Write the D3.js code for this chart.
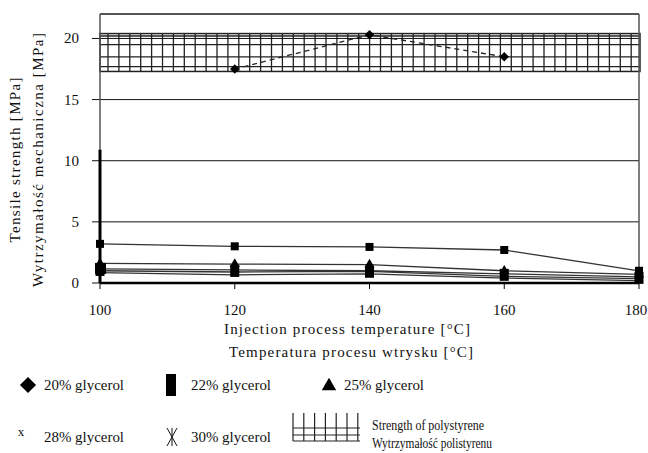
<!DOCTYPE html>
<html>
<head>
<meta charset="utf-8">
<style>
body { margin: 0; background: #fff; }
svg { display: block; }
text { font-family: "Liberation Serif", "Times New Roman", serif; fill: #111; }
.tick-label { font-size: 15px; }
.title { font-size: 15px; }
.legend { font-size: 15px; }
</style>
</head>
<body>
<svg id="chart" width="648" height="453"></svg>
<script src="https://cdn.jsdelivr.net/npm/d3@7"></script>
<script>
// data
var temps = [100, 120, 140, 160, 180];
var yTicks = [0, 5, 10, 15, 20];

// 20% glycerol, dashed line inside the polystyrene band
var g20Temps = [120, 140, 160];
var g20 = [17.5, 20.3, 18.5];
// line with small squares (around 3 MPa)
var gSquares = [3.2, 3.0, 2.95, 2.7, 1.0];
var g22 = [1.15, 1.07, 1.0, 0.75, 0.5];
var g25 = [1.6, 1.55, 1.5, 1.0, 0.7];
var g28 = [1.0, 0.9, 0.95, 0.55, 0.35];
var g30 = [0.85, 0.67, 0.75, 0.4, 0.2];
// thick bar at 100 degC
var barAt100 = 10.9;
// strength of polystyrene band
var bandLow = 17.3, bandHigh = 20.4;
var bandLines = [20.2, 19.5, 18.5, 17.7];

var svg = d3.select("#chart");

var x = d3.scaleLinear().domain([100, 180]).range([100, 639]);
var y = d3.scaleLinear().domain([0, 22]).range([283, 14]);

//	band with hatch
var band = svg.append("g");
band.append("rect")
  .attr("x", x(100)).attr("y", y(bandHigh))
  .attr("width", 540).attr("height", y(bandLow) - y(bandHigh))
  .attr("fill", "#fff").attr("stroke", "#222").attr("stroke-width", 1.5);
band.selectAll(".hl").data(bandLines).enter().append("line")
  .attr("x1", x(100)).attr("x2", 640)
  .attr("y1", function(d) { return y(d); }).attr("y2", function(d) { return y(d); })
  .attr("stroke", "#222").attr("stroke-width", 1.3);
band.selectAll(".vl").data(d3.range(108, 640, 10.9)).enter().append("line")
  .attr("x1", function(d) { return d; }).attr("x2", function(d) { return d; })
  .attr("y1", y(bandHigh)).attr("y2", y(bandLow))
  .attr("stroke", "#222").attr("stroke-width", 1.3);

//	grid lines and y ticks
svg.selectAll(".grid").data(yTicks.filter(function(d) { return d > 0; })).enter().append("line")
  .attr("x1", 92).attr("x2", x(180))
  .attr("y1", function(d) { return y(d); }).attr("y2", function(d) { return y(d); })
  .attr("stroke", "#111").attr("stroke-width", 1);
svg.append("line").attr("x1", 92).attr("x2", 100).attr("y1", y(0)).attr("y2", y(0))
  .attr("stroke", "#111");
svg.selectAll(".ylab").data(yTicks).enter().append("text")
  .attr("class", "tick-label")
  .attr("x", 79).attr("y", function(d) { return y(d) + 5; })
  .attr("text-anchor", "end")
  .text(function(d) { return d; });

//	frame
svg.append("line").attr("x1", x(100)).attr("x2", x(180)).attr("y1", 14).attr("y2", 14)
  .attr("stroke", "#555").attr("stroke-width", 2);
svg.append("line").attr("x1", x(180)).attr("x2", x(180)).attr("y1", 14).attr("y2", y(0))
  .attr("stroke", "#555").attr("stroke-width", 1.5);
svg.append("line").attr("x1", x(100)).attr("x2", x(100)).attr("y1", 14).attr("y2", y(0))
  .attr("stroke", "#555").attr("stroke-width", 1.5);

//	x axis
svg.append("line").attr("x1", x(100)).attr("x2", x(180)).attr("y1", y(0)).attr("y2", y(0))
  .attr("stroke", "#000").attr("stroke-width", 2.5);
svg.selectAll(".xt").data(temps).enter().append("line")
  .attr("x1", function(d) { return x(d); }).attr("x2", function(d) { return x(d); })
  .attr("y1", y(0)).attr("y2", y(0) + 6)
  .attr("stroke", "#000");
svg.selectAll(".xlab").data(temps).enter().append("text")
  .attr("class", "tick-label")
  .attr("x", function(d) { return Math.min(x(d), 636); }).attr("y", 315)
  .attr("text-anchor", "middle")
  .text(function(d) { return d; });

//	thick bar at 100
svg.append("line").attr("x1", x(100)).attr("x2", x(100))
  .attr("y1", y(0)).attr("y2", y(barAt100))
  .attr("stroke", "#000").attr("stroke-width", 3);

//	series lines
var line = d3.line()
  .x(function(d, i) { return x(temps[i]); })
  .y(function(d) { return y(d); });

[gSquares, g25, g22, g28, g30].forEach(function(s) {
  svg.append("path").attr("d", line(s))
    .attr("fill", "none").attr("stroke", "#333").attr("stroke-width", 1.3);
});

svg.append("path")
  .attr("d", d3.line()
    .x(function(d, i) { return x(g20Temps[i]); })
    .y(function(d) { return y(d); })(g20))
  .attr("fill", "none").attr("stroke", "#222").attr("stroke-width", 1.3)
  .attr("stroke-dasharray", "5,4");

//	markers
var diamond = d3.symbol().type(d3.symbolDiamond).size(40);
svg.selectAll(".m20").data(g20).enter().append("path")
  .attr("d", diamond)
  .attr("transform", function(d, i) { return "translate(" + x(g20Temps[i]) + "," + y(d) + ") scale(1.4,0.8)"; })
  .attr("fill", "#000");

svg.selectAll(".msq").data(gSquares).enter().append("rect")
  .attr("x", function(d, i) { return x(temps[i]) - 4; })
  .attr("y", function(d) { return y(d) - 4; })
  .attr("width", 8).attr("height", 8).attr("fill", "#000");

svg.selectAll(".m22").data(g22).enter().append("rect")
  .attr("x", function(d, i) { return x(temps[i]) - 4.5; })
  .attr("y", function(d) { return y(d) - 5; })
  .attr("width", 9).attr("height", 12).attr("fill", "#000");

var tri = d3.symbol().type(d3.symbolTriangle).size(45);
svg.selectAll(".m25").data(g25).enter().append("path")
  .attr("d", tri)
  .attr("transform", function(d, i) { return "translate(" + x(temps[i]) + "," + y(d) + ")"; })
  .attr("fill", "#000");

// big marker at 100
svg.append("rect").attr("x", x(100) - 5).attr("y", y(g22[0]) - 6)
  .attr("width", 11).attr("height", 11).attr("fill", "#000");

//	axis titles
svg.append("text").attr("class", "title")
  .attr("transform", "translate(20,160) rotate(-90)")
  .attr("text-anchor", "middle")
  .attr("textLength", 165).attr("lengthAdjust", "spacing")
  .text("Tensile strength [MPa]");
svg.append("text").attr("class", "title")
  .attr("transform", "translate(43,160) rotate(-90)")
  .attr("text-anchor", "middle")
  .attr("textLength", 254).attr("lengthAdjust", "spacing")
  .text("Wytrzymałość mechaniczna [MPa]");
svg.append("text").attr("class", "title")
  .attr("x", 224).attr("y", 334)
  .attr("textLength", 246).attr("lengthAdjust", "spacing")
  .text("Injection process temperature [°C]");
svg.append("text").attr("class", "title")
  .attr("x", 229).attr("y", 357)
  .attr("textLength", 244).attr("lengthAdjust", "spacing")
  .text("Temperatura procesu wtrysku [°C]");

//	legend
var lg = svg.append("g");
var row1 = 385, row2 = 437;
lg.append("path").attr("d", d3.symbol().type(d3.symbolSquare).size(130))
  .attr("transform", "translate(28," + row1 + ") rotate(45)").attr("fill", "#000");
lg.append("text").attr("class", "legend").attr("x", 44).attr("y", row1 + 5)
  .attr("textLength", 80).attr("lengthAdjust", "spacingAndGlyphs").text("20% glycerol");
lg.append("rect").attr("x", 166).attr("y", row1 - 11).attr("width", 10).attr("height", 22).attr("fill", "#000");
lg.append("text").attr("class", "legend").attr("x", 191).attr("y", row1 + 5)
  .attr("textLength", 80).attr("lengthAdjust", "spacingAndGlyphs").text("22% glycerol");
lg.append("path").attr("d", d3.symbol().type(d3.symbolTriangle).size(90))
  .attr("transform", "translate(329," + (row1 + 1) + ")").attr("fill", "#000");
lg.append("text").attr("class", "legend").attr("x", 344).attr("y", row1 + 5)
  .attr("textLength", 80).attr("lengthAdjust", "spacingAndGlyphs").text("25% glycerol");

lg.append("text").attr("class", "legend").attr("x", 21).attr("y", row2 - 1)
  .attr("text-anchor", "middle").style("font-size", "13px").text("x");
lg.append("text").attr("class", "legend").attr("x", 44).attr("y", row2 + 5)
  .attr("textLength", 80).attr("lengthAdjust", "spacingAndGlyphs").text("28% glycerol");
// asterisk-like marker
var ast = lg.append("g").attr("transform", "translate(172," + row2 + ")")
  .attr("stroke", "#111").attr("stroke-width", 1);
ast.append("line").attr("x1", 0).attr("x2", 0).attr("y1", -9).attr("y2", 9);
ast.append("line").attr("x1", -5).attr("x2", 5).attr("y1", -9).attr("y2", 9);
ast.append("line").attr("x1", 5).attr("x2", -5).attr("y1", -9).attr("y2", 9);
lg.append("text").attr("class", "legend").attr("x", 191).attr("y", row2 + 5)
  .attr("textLength", 80).attr("lengthAdjust", "spacingAndGlyphs").text("30% glycerol");

var hb = lg.append("g").attr("stroke", "#222").attr("stroke-width", 1.2);
hb.selectAll(".v").data(d3.range(293, 362, 10.8)).enter().append("line")
  .attr("x1", function(d) { return d; }).attr("x2", function(d) { return d; })
  .attr("y1", 413).attr("y2", 441);
[428, 435, 441].forEach(function(v) {
  hb.append("line").attr("x1", 293).attr("x2", 360).attr("y1", v).attr("y2", v);
});
lg.append("text").attr("class", "legend").attr("x", 372).attr("y", 430)
  .style("font-size", "14px")
  .attr("textLength", 112).attr("lengthAdjust", "spacingAndGlyphs").text("Strength of polystyrene");
lg.append("text").attr("class", "legend").attr("x", 372).attr("y", 448)
  .style("font-size", "14px")
  .attr("textLength", 120).attr("lengthAdjust", "spacingAndGlyphs").text("Wytrzymałość polistyrenu");
</script>
</body>
</html>
